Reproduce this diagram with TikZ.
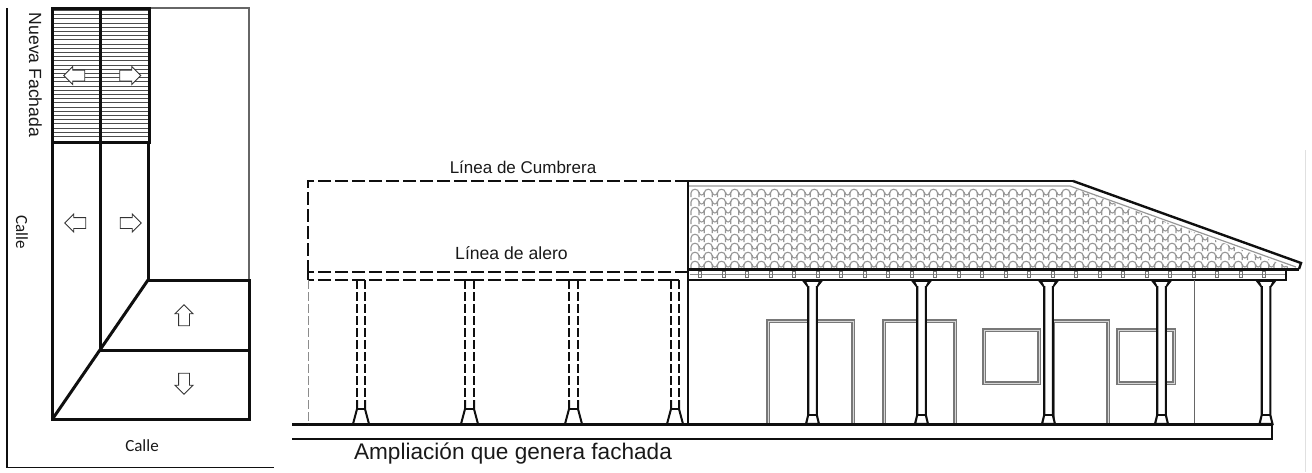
\documentclass[tikz,border=0pt]{standalone}
\usepackage{xcolor}
\usepackage{fontspec}
\setmainfont{Liberation Sans}
\newfontfamily\callefont{Carlito}
\usetikzlibrary{shapes.arrows}
\definecolor{inkcolor}{RGB}{15, 15, 15}
\definecolor{tilecolor}{RGB}{150, 150, 150}
\definecolor{doorcolor}{RGB}{120, 120, 120}
\tikzstyle{heavy} = [draw=inkcolor, line width=2pt]
\tikzstyle{plotline} = [draw=inkcolor, line width=3pt]
\tikzstyle{hatch} = [draw=black!70, line width=0.9pt]
\tikzstyle{ghost} = [draw=inkcolor, line width=2.5pt, dash pattern=on 13pt off 4pt]
\tikzstyle{ghostcol} = [draw=inkcolor, line width=2.2pt, dash pattern=on 9pt off 3pt]
\tikzstyle{tile} = [draw=tilecolor, line width=1.1pt]
\tikzstyle{opening} = [draw=doorcolor, line width=2pt, double=white!70!doorcolor, double distance=0.5pt]
\tikzstyle{flow} = [single arrow, draw=black!80, fill=white, line width=0.9pt, inner sep=5pt, minimum height=21pt, single arrow head extend=3.5pt, single arrow head indent=0pt]
\tikzstyle{label} = [inner sep=0pt, text=black!90]

\begin{document}
\begin{tikzpicture}[x=1pt, y=-1pt]
\useasboundingbox (0,0) rectangle (1312,472);

% Plano - calles
\draw [draw=inkcolor, line width=1.2pt] (7,8) -- (7,467.5) -- (274,467.5);
\draw [draw=black!60, line width=1.2pt] (149,8) -- (249,8) -- (249,279);

% Plano - franja nueva
\foreach \y in {10.5,14.7,...,140} {
  \draw [hatch] (52,\y) -- (149,\y);
}
\draw [plotline] (52,8.5) rectangle (149,142);
\draw [plotline] (100.5,8.5) -- (100.5,142);

% Plano - lotes
\draw [plotline] (52.5,142) -- (52.5,419) -- (249,419) -- (249,280) -- (148,280) -- (148,142);
\draw [plotline] (100,142) -- (100,350);
\draw [plotline] (52.5,419) -- (148,280);
\draw [plotline] (100,350) -- (249,350);

% Plano - flechas
\node (hatchleft) [flow, shape border rotate=180] at (77,75.5) {};
\node (hatchright) [flow] at (127.5,75.5) {};
\node (lotleft) [flow, shape border rotate=180] at (78,223) {};
\node (lotright) [flow] at (128,223) {};
\node (lotup) [flow, shape border rotate=90] at (184,318) {};
\node (lotdown) [flow, shape border rotate=270] at (184,381) {};

% Plano - textos
\node (nueva) [label, rotate=-90] at (35.5,75) {\fontsize{17.6}{20}\selectfont Nueva Fachada};
\node (callev) [label, rotate=-90] at (22,232.5) {\callefont\fontsize{17}{20}\selectfont Calle};
\node (calleh) [label] at (142,446) {\callefont\fontsize{17}{20}\selectfont Calle};

% Alzado - cubierta
\begin{scope}
\clip (690,187) -- (1070,187) -- (1292,268) -- (690,268) -- cycle;
\foreach \r in {0,...,9} {
  \foreach \c in {0,...,46} {
    \pgfmathsetmacro{\tx}{691+13.25*\c}
    \pgfmathsetmacro{\ty}{188+9*\r}
    \draw [tile] (\tx,\ty+9) -- (\tx,\ty+5) .. controls (\tx,\ty) and (\tx+8,\ty) .. (\tx+8,\ty+5) -- (\tx+8,\ty+9);
    \draw [tile] (\tx+8,\ty+4) .. controls (\tx+8,\ty+8) and (\tx+13.25,\ty+8) .. (\tx+13.25,\ty+4);
  }
}
\end{scope}
\draw [draw=tilecolor, line width=1.2pt] (689,186) -- (1070,186) -- (1296,267);
\draw [draw=inkcolor, line width=2.4pt] (1073,181) -- (1301,263) -- (1299,269);
\draw [draw=inkcolor, line width=2.2pt] (688,181) -- (1073,181);

% Alzado - alero
\draw [draw=inkcolor, line width=2.4pt] (688,269.5) -- (1299,269.5);
\draw [draw=black!45, line width=1.2pt] (690,274.5) -- (1285,274.5);
\draw [draw=inkcolor, line width=2.4pt] (688,280) -- (1286,280) -- (1286,270);
\foreach \x in {700,723.5,...,1280} {
  \draw [draw=black!55, line width=0.8pt] (\x-1.5,271) rectangle (\x+1.5,277);
}

% Alzado - puertas y ventanas
\draw [opening] (768,424) -- (768,321) -- (853,321) -- (853,424);
\draw [opening] (884,424) -- (884,321) -- (955,321) -- (955,424);
\draw [opening] (1053,424) -- (1053,321) -- (1108,321) -- (1108,424);
\draw [opening] (984,330) rectangle (1039,383);
\draw [opening] (1118,330) rectangle (1174,383);
\draw [draw=black!60, line width=1pt] (1194,280) -- (1194,424);

% Alzado - columnas
\foreach \x in {812.5,921.5,1048.5,1161.5,1266} {
  \fill [inkcolor] (\x-11,280) -- (\x+11,280) -- (\x+5.5,287) -- (\x-5.5,287) -- cycle;
  \fill [white] (\x-6,282) -- (\x+6,282) -- (\x+3.5,287) -- (\x-3.5,287) -- cycle;
  \draw [draw=inkcolor, fill=white, line width=2.1pt] (\x-4.3,286) -- (\x-4.3,415) -- (\x-6.5,424) -- (\x+6.5,424) -- (\x+4.3,415) -- (\x+4.3,286);
  \draw [draw=inkcolor, line width=1.7pt] (\x-4.3,415) -- (\x+4.3,415);
}

% Alzado - muro y suelo
\draw [heavy, line width=2.6pt] (688,181) -- (688,424);
\draw [heavy, line width=2.4pt] (292,424.5) -- (1272,424.5) -- (1272,439) -- (292,439);
\draw [draw=black!12, line width=1pt] (1305,150) -- (1305,472);

% Ampliacion - trazos
\draw [ghost] (688,181) -- (308,181) -- (308,272);
\draw [ghost] (688,272) -- (308,272);
\draw [heavy] (308,272) -- (308,280);
\draw [ghost] (671,280) -- (308,280);
\draw [draw=black!45, line width=1pt, dash pattern=on 9pt off 3pt] (308,280) -- (308,424);
\foreach \xa/\xb in {357/365,465/474,569/578,671/679} {
  \draw [heavy] (\xa,280) -- (\xb,280);
  \draw [ghostcol] (\xa,280) -- (\xa,400);
  \draw [ghostcol] (\xb,280) -- (\xb,400);
  \draw [heavy] (\xa,400) -- (\xa,409) -- (\xa-4,424);
  \draw [heavy] (\xb,400) -- (\xb,409) -- (\xb+4,424);
  \draw [heavy] (\xa,409) -- (\xb,409);
}

% Textos
\node (cumbrera) [label] at (523,167) {\fontsize{17}{20}\selectfont Línea de Cumbrera};
\node (alero) [label] at (511.5,253) {\fontsize{17.6}{20}\selectfont Línea de alero};
\node (ampliacion) [label] at (513,454) {\fontsize{22.6}{26}\selectfont Ampliación que genera fachada};

\end{tikzpicture}
\end{document}
